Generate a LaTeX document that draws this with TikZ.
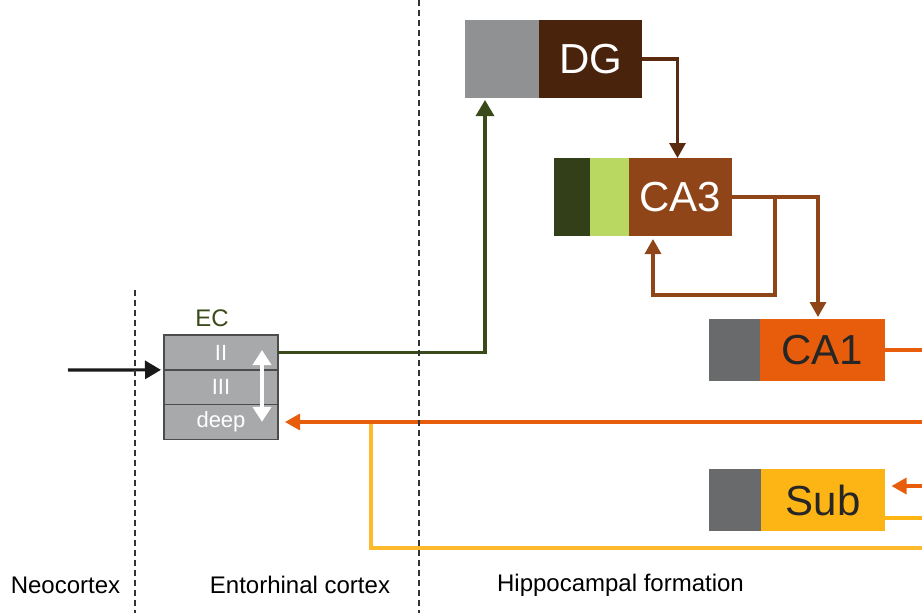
\documentclass[tikz,border=0pt]{standalone}
\usepackage{fontspec}
\setmainfont{Liberation Sans}
\usetikzlibrary{positioning,arrows.meta}
\definecolor{dggray}{HTML}{8F9193}
\definecolor{dgbrown}{HTML}{4A230C}
\definecolor{dgline}{HTML}{5A2B10}
\definecolor{cadark}{HTML}{333F18}
\definecolor{calight}{HTML}{B9D862}
\definecolor{cabrown}{HTML}{8F4518}
\definecolor{cagray}{HTML}{696A6C}
\definecolor{caorange}{HTML}{E85D0C}
\definecolor{subyellow}{HTML}{FDB515}
\definecolor{lineyellow}{HTML}{FDBA2C}
\definecolor{ecgray}{HTML}{A7A9AB}
\definecolor{ecolive}{HTML}{3A4A1A}
\begin{document}
\begin{tikzpicture}[x=1pt,y=-1pt,
  every node/.style={font=\fontsize{24}{24}\selectfont},
  blk/.style={minimum height=78pt,inner sep=0pt,outer sep=0pt,font=\fontsize{42}{42}\selectfont},
  ecrow/.style={draw=black!70,line width=1.5pt,fill=ecgray,minimum width=114pt,minimum height=34.7pt,
    inner sep=0pt,outer sep=0pt,text=white,font=\fontsize{22}{22}\selectfont},
  conn/.style={line width=3.2pt},
  tip/.style={-{Triangle[length=15pt,width=16pt]}},
  region/.style={draw=black!80,line width=1.5pt,dash pattern=on 6pt off 4pt}]
\useasboundingbox (0,0) rectangle (922,613);
% hippocampal blocks
\node[blk,fill=dgbrown,minimum width=103pt,text=white] (dg) at (590.5,59) {DG};
\node[blk,fill=dggray,minimum width=74pt,left=0pt of dg] (dgin) {};
\node[blk,fill=cabrown,minimum width=103pt,text=white] (ca3) at (680.5,197) {CA3};
\node[blk,fill=calight,minimum width=39pt,left=0pt of ca3] (ca3b) {};
\node[blk,fill=cadark,minimum width=36pt,left=0pt of ca3b] (ca3a) {};
\node[blk,fill=caorange,minimum width=125pt,minimum height=62pt,text=black!85] (ca1) at (822.5,350) {CA1};
\node[blk,fill=cagray,minimum width=51pt,minimum height=62pt,left=0pt of ca1] (ca1in) {};
\node[blk,fill=subyellow,minimum width=124pt,minimum height=62pt,text=black!85] (sub) at (823,500) {Sub};
\node[blk,fill=cagray,minimum width=52pt,minimum height=62pt,left=0pt of sub] (subin) {};
% entorhinal cortex
\node[ecrow] (ec2) at (221,352.5) {II};
\node[ecrow,below=0pt of ec2] (ec3) {III};
\node[ecrow,below=0pt of ec3] (ecdeep) {deep};
\node[text=ecolive] (eclbl) at (212,318) {EC};
\draw[white,line width=4pt,{Triangle[length=15pt,width=18pt]}-{Triangle[length=15pt,width=18pt]}]
  ([xshift=-16pt,yshift=2.5pt]ec2.east) -- ([xshift=-16pt]ecdeep.east);
% region labels
\node (neo) at (65.5,585) {Neocortex};
\node (ento) at (300,585) {Entorhinal cortex};
\node (hippo) at (620.5,585) {Hippocampal formation};
% connections
\coordinate (input) at (68,370);
\coordinate (loopc) at (775,295);
\coordinate (ca1out) at (922,350);
\coordinate (back) at (922,422);
\coordinate (subfeed) at (922,486);
\coordinate (subout) at (922,518);
\coordinate (subloop) at (922,548);
\coordinate (ecjoin) at (371,422);
\draw[conn,-{Triangle[length=16pt,width=18pt]},black!90,shorten >=3pt] (input) -- (ec2.south west);
\draw[conn,-{Triangle[length=16pt,width=18pt]},ecolive,shorten >=2pt] (ec2.east) -| ([xshift=-17pt]dgin.south);
\draw[conn,tip,dgline] (dg.east) -| ([xshift=-3pt]ca3.north);
\draw[conn,tip,cabrown,shorten >=3pt] (ca3.east) -| (loopc) -| ([xshift=-27.5pt]ca3.south);
\draw[conn,tip,cabrown,shorten >=2pt] (ca3.east) -| ([xshift=-4.5pt]ca1.north);
\draw[conn,caorange] (ca1.east) -- (ca1out);
\draw[conn,lineyellow] (subloop) -| (ecjoin);
\draw[conn,tip,caorange,shorten >=7pt] (back) -- (ecdeep.east |- back);
\draw[conn,tip,caorange,shorten >=6.5pt] (subfeed) -- (sub.east |- subfeed);
\draw[conn,subyellow] (sub.east |- subout) -- (subout);
% region borders
\draw[region] (135,290) -- (135,613);
\draw[region] (419,0) -- (419,613);
\end{tikzpicture}
\end{document}
